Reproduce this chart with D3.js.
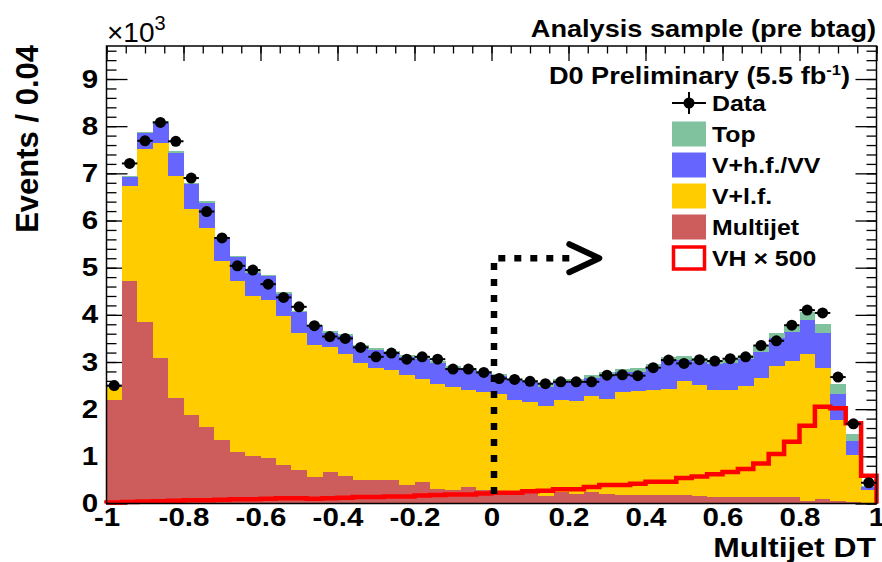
<!DOCTYPE html>
<html>
<head>
<meta charset="utf-8">
<script src="https://cdn.jsdelivr.net/npm/d3@7"></script>
<style>
  body { margin: 0; background: #fff; }
  text { font-family: "Liberation Sans", Arial, sans-serif; }
</style>
</head>
<body>
<svg id="chart" width="882" height="562"></svg>
<script>
// bins of 0.04 over [-1, 1]
const binEdges = d3.range(51).map(i => -1 + i * 0.04);

// stacked backgrounds, x10^3 events per bin
const multijet = [2.20,4.71,3.85,3.09,2.24,1.87,1.62,1.34,1.10,1.00,0.96,0.81,0.71,0.56,0.67,0.58,0.50,0.50,0.49,0.40,
  0.45,0.30,0.28,0.35,0.28,0.24,0.22,0.22,0.15,0.24,0.21,0.24,0.21,0.17,0.17,0.17,0.17,0.18,0.16,0.14,
  0.14,0.14,0.13,0.13,0.13,0.05,0.10,0.05,0.03,0.02];
const vlf = [0.26,2.02,3.66,4.55,4.70,4.38,4.23,3.80,3.61,3.39,3.36,3.17,2.91,2.81,2.65,2.60,2.47,2.38,2.35,2.33,
  2.20,2.24,2.19,2.06,2.08,2.09,1.98,1.93,1.92,1.96,1.96,2.04,2.01,2.19,2.21,2.23,2.26,2.42,2.35,2.27,
  2.27,2.35,2.54,2.78,2.89,3.13,2.78,1.73,0.99,0.26];
const vhf = [0.03,0.19,0.34,0.43,0.50,0.52,0.53,0.49,0.51,0.50,0.50,0.47,0.44,0.39,0.30,0.37,0.35,0.38,0.36,0.37,
  0.42,0.44,0.41,0.42,0.40,0.37,0.41,0.43,0.41,0.38,0.41,0.39,0.50,0.43,0.41,0.49,0.61,0.44,0.49,0.55,
  0.57,0.57,0.54,0.59,0.62,0.72,0.74,0.55,0.30,0.07];
const topQuark = [0.01,0.03,0.03,0.03,0.03,0.03,0.03,0.03,0.03,0.03,0.03,0.03,0.03,0.03,0.04,0.04,0.04,0.04,0.04,0.04,
  0.04,0.04,0.04,0.04,0.04,0.04,0.04,0.04,0.05,0.05,0.06,0.05,0.06,0.06,0.08,0.07,0.07,0.08,0.08,0.08,
  0.09,0.09,0.12,0.12,0.12,0.16,0.19,0.21,0.15,0.03];

// signal VH x 500
const vh = [0.02,0.03,0.04,0.05,0.06,0.07,0.07,0.08,0.09,0.09,0.10,0.11,0.11,0.10,0.11,0.12,0.14,0.14,0.15,0.15,
  0.17,0.18,0.19,0.19,0.21,0.23,0.23,0.26,0.27,0.30,0.30,0.35,0.39,0.39,0.42,0.46,0.46,0.54,0.57,0.62,
  0.67,0.73,0.85,1.05,1.31,1.65,2.05,2.02,1.70,0.59];

// observed data
const dataPts = [2.50,7.21,7.69,8.08,7.68,6.90,6.19,5.63,5.04,4.95,4.65,4.37,4.17,3.77,3.54,3.50,3.31,3.11,3.19,3.06,
  3.11,3.06,2.85,2.85,2.78,2.65,2.63,2.59,2.54,2.58,2.58,2.58,2.72,2.73,2.71,2.88,3.04,2.97,3.05,3.02,
  3.07,3.11,3.35,3.45,3.78,4.10,4.04,2.68,1.69,0.44];

const xMajor = [-1,-0.8,-0.6,-0.4,-0.2,0,0.2,0.4,0.6,0.8,1];
const yMajor = [0,1,2,3,4,5,6,7,8,9];

const layers = [
  {key: "multijet", label: "Multijet", color: "#cd5c5c", values: multijet},
  {key: "vlf", label: "V+l.f.", color: "#ffcc00", values: vlf},
  {key: "vhf", label: "V+h.f./VV", color: "#6666ff", values: vhf},
  {key: "top", label: "Top", color: "#80c29e", values: topQuark}
];

// cut selection arrow (data coords)
const cutX = 0, cutY = 5.2, cutTip = 0.28;

const SX = 1.18; // the picture is stretched horizontally
const margin = {left: 106.5, right: 5.5, top: 46, bottom: 58.5};
const W = 882, H = 562;

const x = d3.scaleLinear().domain([-1, 1]).range([margin.left, W - margin.right]);
const y = d3.scaleLinear().domain([0, 9.7]).range([H - margin.bottom, margin.top]);

const svg = d3.select("#chart");

// ticks (drawn under the histograms like ROOT)
const axes = svg.append("g");
function tickAxis(axis, tx, ty) {
  const g = axes.append("g").attr("transform", "translate(" + tx + "," + ty + ")").call(axis);
  g.select(".domain").remove();
  g.selectAll("line").attr("stroke", "#000").attr("stroke-width", 1.3);
  return g;
}
const x0 = x.range()[0], x1 = x.range()[1], y0 = y.range()[0], y1 = y.range()[1];

tickAxis(d3.axisBottom(x).tickValues(d3.range(-1, 1.001, 0.05)).tickSize(-7.5).tickFormat(""), 0, y0);
tickAxis(d3.axisTop(x).tickValues(d3.range(-1, 1.001, 0.05)).tickSize(-7.5).tickFormat(""), 0, y1);
tickAxis(d3.axisTop(x).tickValues(xMajor).tickSize(-15).tickFormat(""), 0, y1);
const xAx = tickAxis(d3.axisBottom(x).tickValues(xMajor).tickSize(-15).tickPadding(5)
  .tickFormat(d => String(+d.toFixed(1))), 0, y0);
xAx.selectAll("text")
  .attr("font-size", 25).attr("font-weight", "bold").attr("fill", "#000")
  .attr("transform", "scale(" + SX + ",1)");

tickAxis(d3.axisLeft(y).tickValues(d3.range(0, 9.65, 0.2)).tickSize(-10).tickFormat(""), x0, 0);
tickAxis(d3.axisRight(y).tickValues(d3.range(0, 9.65, 0.2)).tickSize(-10).tickFormat(""), x1, 0);
tickAxis(d3.axisRight(y).tickValues(yMajor).tickSize(-21).tickFormat(""), x1, 0);
const yAx = tickAxis(d3.axisLeft(y).tickValues(yMajor).tickSize(-21).tickPadding(7), x0, 0);
yAx.selectAll("text")
  .attr("font-size", 25).attr("font-weight", "bold").attr("fill", "#000")
  .attr("transform", "scale(" + SX + ",1)");

// stacked histograms
const table = binEdges.slice(0, 50).map((e, i) => {
  const row = {lo: e, hi: binEdges[i + 1]};
  layers.forEach(l => row[l.key] = l.values[i]);
  return row;
});
const stack = d3.stack().keys(layers.map(l => l.key))(table);

const hist = svg.append("g").attr("shape-rendering", "crispEdges");
stack.forEach((s, k) => {
  hist.append("g")
    .attr("fill", layers[k].color)
    .selectAll("rect")
    .data(s)
    .join("rect")
    .attr("x", d => x(d.data.lo))
    .attr("width", d => x(d.data.hi) - x(d.data.lo) + 0.5)
    .attr("y", d => y(d[1]))
    .attr("height", d => y(d[0]) - y(d[1]));
});

// VH x 500 outline
const vhPts = [[-1, 0]].concat(vh.map((v, i) => [binEdges[i], v]), [[1, vh[49]], [1, 0]]);
const stepLine = d3.line().x(d => x(d[0])).y(d => y(d[1])).curve(d3.curveStepAfter);
svg.append("path")
  .attr("d", stepLine(vhPts))
  .attr("fill", "none")
  .attr("stroke", "#ff0000")
  .attr("stroke-width", 4.5);

// data points
const pts = svg.append("g");
pts.selectAll("line")
  .data(dataPts)
  .join("line")
  .attr("x1", (d, i) => x(binEdges[i]))
  .attr("x2", (d, i) => x(binEdges[i + 1]))
  .attr("y1", d => y(d))
  .attr("y2", d => y(d))
  .attr("stroke", "#000")
  .attr("stroke-width", 2);
pts.selectAll("circle")
  .data(dataPts)
  .join("circle")
  .attr("cx", (d, i) => x((binEdges[i] + binEdges[i + 1]) / 2))
  .attr("cy", d => y(d))
  .attr("r", 5.5)
  .attr("fill", "#000");

// cut arrow
svg.append("path")
  .attr("d", "M" + (x(cutTip) - 30) + "," + y(cutY) + "H" + (x(cutX) + 2.5) + "V" + y(0))
  .attr("fill", "none")
  .attr("stroke", "#000")
  .attr("stroke-width", 6.5)
  .attr("stroke-dasharray", "7,9");
svg.append("path")
  .attr("d", "M" + (x(cutTip) - 30) + "," + (y(cutY) - 14) + "L" + x(cutTip) + "," + y(cutY)
    + "L" + (x(cutTip) - 30) + "," + (y(cutY) + 14))
  .attr("fill", "none")
  .attr("stroke", "#000")
  .attr("stroke-width", 6)
  .attr("stroke-linecap", "round")
  .attr("stroke-linejoin", "round");

// frame
svg.append("rect")
  .attr("x", x0).attr("y", y1)
  .attr("width", x1 - x0).attr("height", y0 - y1)
  .attr("fill", "none").attr("stroke", "#000").attr("stroke-width", 1.5);

// texts
function label(tx, ty, str, size, weight, anchor) {
  return svg.append("text")
    .attr("transform", "translate(" + tx + "," + ty + ") scale(" + SX + ",1)")
    .attr("font-size", size)
    .attr("font-weight", weight)
    .attr("text-anchor", anchor)
    .text(str);
}

const mult = svg.append("text")
  .attr("x", 107).attr("y", 42)
  .attr("font-size", 28)
  .text("\u00d710");
mult.append("tspan").attr("dy", -12).attr("font-size", 20).text("3");

label(876, 37, "Analysis sample (pre btag)", 23, "bold", "end");
const d0 = label(850, 84, "D0 Preliminary (5.5 fb", 23, "bold", "end");
d0.append("tspan").attr("dy", -9).attr("font-size", 14).text("-1");
d0.append("tspan").attr("dy", 9).text(")");

label(876, 557, "Multijet DT", 27, "bold", "end");

svg.append("text")
  .attr("transform", "translate(38,45) rotate(-90)")
  .attr("font-size", 31)
  .attr("font-weight", "bold")
  .attr("text-anchor", "end")
  .text("Events / 0.04");

// legend
const legend = svg.append("g").attr("transform", "translate(672,103)");
const rowH = 31;
const lg0 = legend.append("g");
lg0.append("line").attr("x1", 0).attr("x2", 34).attr("y1", 0).attr("y2", 0)
  .attr("stroke", "#000").attr("stroke-width", 2);
lg0.append("line").attr("x1", 17).attr("x2", 17).attr("y1", -11).attr("y2", 11)
  .attr("stroke", "#000").attr("stroke-width", 2);
lg0.append("circle").attr("cx", 17).attr("cy", 0).attr("r", 5.5).attr("fill", "#000");

const legendItems = [layers[3], layers[2], layers[1], layers[0]];
legendItems.forEach((l, i) => {
  legend.append("rect")
    .attr("x", 0).attr("y", (i + 1) * rowH - 12.5)
    .attr("width", 34).attr("height", 25)
    .attr("fill", l.color);
});
legend.append("rect")
  .attr("x", 1.5).attr("y", 5 * rowH - 11)
  .attr("width", 31).attr("height", 22)
  .attr("fill", "#fff").attr("stroke", "#ff0000").attr("stroke-width", 3.5);

const legendLabels = ["Data"].concat(legendItems.map(l => l.label), ["VH \u00d7 500"]);
legendLabels.forEach((t, i) => {
  legend.append("text")
    .attr("transform", "translate(40," + (i * rowH + 8) + ") scale(1.13,1)")
    .attr("font-size", 22)
    .attr("font-weight", "bold")
    .text(t);
});
</script>
</body>
</html>
